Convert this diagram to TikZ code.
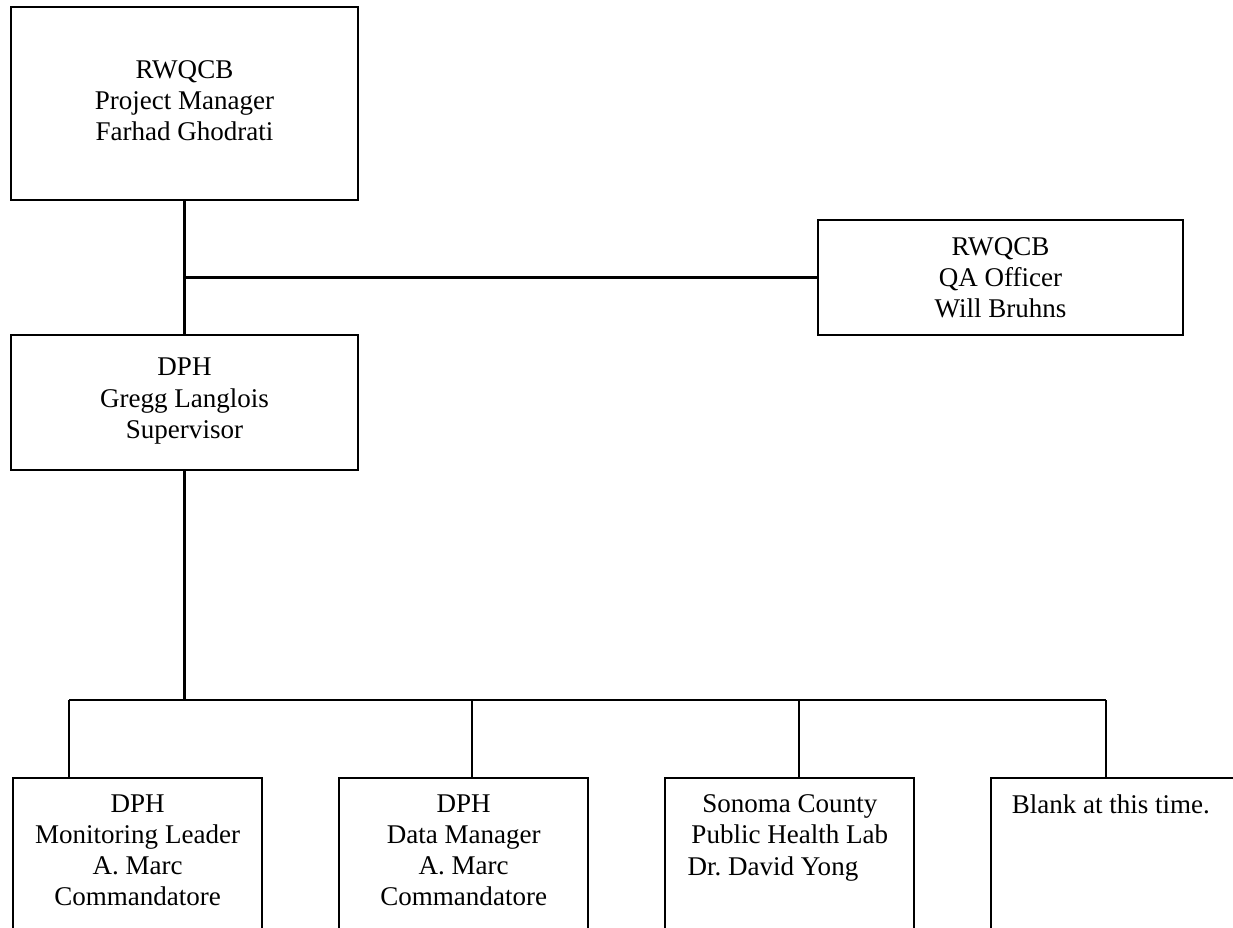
\documentclass[tikz,border=0pt]{standalone}
\usepackage{fontspec}
\setmainfont{Liberation Serif}
\usepackage{tikz}
\usetikzlibrary{positioning}
\tikzstyle{role}=[draw, line width=0.9pt, align=center, inner sep=0pt]
\tikzstyle{staff}=[role, anchor=north west, minimum width=110.6pt, minimum height=80pt]
\tikzstyle{roletxt}=[align=center, inner sep=0pt]
\tikzstyle{link}=[line width=0.9pt]
\begin{document}
\begin{tikzpicture}[x=0.444pt,y=-0.444pt,font=\fontsize{12}{13.8}\selectfont]
    \path [use as bounding box] (0,0) rectangle (1233,928);
    \clip (0,0) rectangle (1233,928);
    \node [role, minimum width=154pt, minimum height=85.7pt] (pm) at (184.5,103.5) {RWQCB\\Project Manager\\Farhad Ghodrati\\[-11pt]\mbox{}};
    \node [role, minimum width=154pt, minimum height=60pt, below=59pt of pm] (sup) {DPH\\Gregg Langlois\\Supervisor\\[-10pt]\mbox{}};
    \node [role, minimum width=162pt, minimum height=51pt] (qa) at (1000.5,277.5) {RWQCB\\QA Officer\\Will Bruhns};
    \node [staff] (b1) at (12,777) {};
    \node [staff, right=33.3pt of b1] (b2) {};
    \node [staff, right=33.3pt of b2] (b3) {};
    \node [staff, right=33.3pt of b3] (b4) {};
    \node [roletxt, below=7.8pt of b1.north] (t1) {DPH\\Monitoring Leader\\A. Marc\\Commandatore};
    \node [roletxt, below=7.8pt of b2.north] (t2) {DPH\\Data Manager\\A. Marc\\Commandatore};
    \node [roletxt, below=7.8pt of b3.north] (t3) {Sonoma County\\Public Health Lab\\Dr.\ David Yong\hspace*{15pt}};
    \node [roletxt, below right=7.8pt and 9.3pt of b4.north west] (t4) {Blank at this time.};
    \coordinate (d1) at (69,700);
    \coordinate (d2) at (472,700);
    \coordinate (d3) at (799,700);
    \coordinate (d4) at (1106,700);
    \draw [link] (pm.south) -- (sup.north);
    \draw [link] (qa.west) -- (qa.west -| pm.south);
    \draw [link] (sup.south) -- (sup.south |- d1);
    \draw [link] (d1) -- (d4);
    \foreach \i in {1,...,4}
        \draw [link] (b\i.north -| d\i) -- (d\i);
\end{tikzpicture}
\end{document}
